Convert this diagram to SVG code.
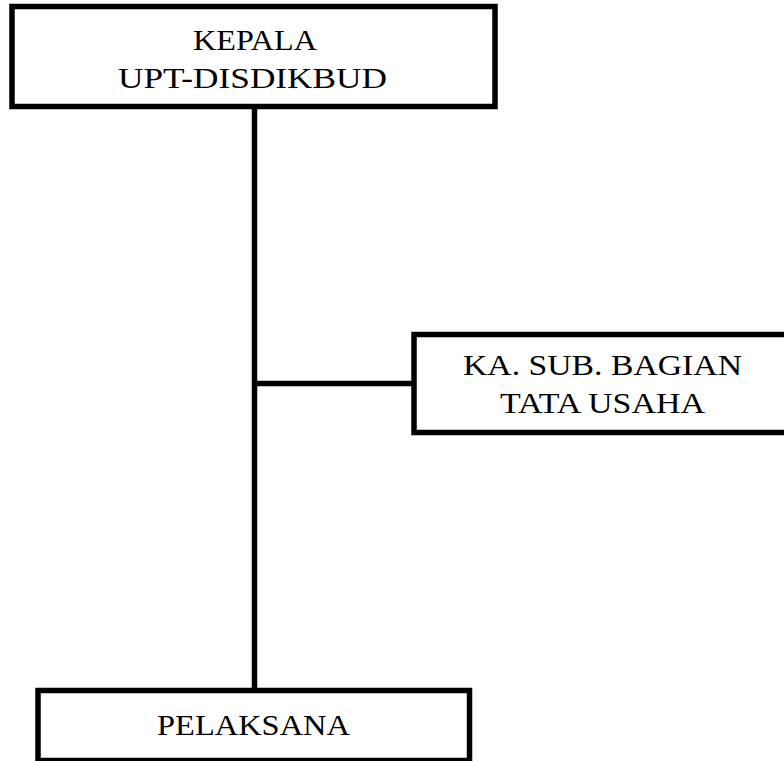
<svg xmlns="http://www.w3.org/2000/svg" width="784" height="761" viewBox="0 0 784 761">
<style>
.box{fill:#fff;stroke:#000;stroke-width:5.5}
.lbl{font-family:"Liberation Serif","Times New Roman",serif;font-size:30px;fill:#000;text-anchor:middle}
.con{stroke:#000;stroke-width:5.5;fill:none}
</style>
<rect width="784" height="761" fill="#fff"/>
<g id="connectors">
<line class="con" x1="254.5" y1="106" x2="254.5" y2="691"/>
<line class="con" x1="254.5" y1="383.5" x2="414" y2="383.5"/>
</g>
<g id="kepala">
<rect class="box" x="12" y="6.5" width="483" height="100"/>
<text class="lbl" x="255" y="50" textLength="124" lengthAdjust="spacingAndGlyphs">KEPALA</text>
<text class="lbl" x="252.5" y="88" textLength="269" lengthAdjust="spacingAndGlyphs">UPT-DISDIKBUD</text>
</g>
<g id="kasubbag">
<rect class="box" x="414" y="334.5" width="380" height="98"/>
<text class="lbl" x="602.5" y="375" textLength="279" lengthAdjust="spacingAndGlyphs">KA. SUB. BAGIAN</text>
<text class="lbl" x="602.5" y="413" textLength="205" lengthAdjust="spacingAndGlyphs">TATA USAHA</text>
</g>
<g id="pelaksana">
<rect class="box" x="38" y="690.5" width="431.5" height="70"/>
<text class="lbl" x="253.5" y="735" textLength="193" lengthAdjust="spacingAndGlyphs">PELAKSANA</text>
</g>
</svg>
